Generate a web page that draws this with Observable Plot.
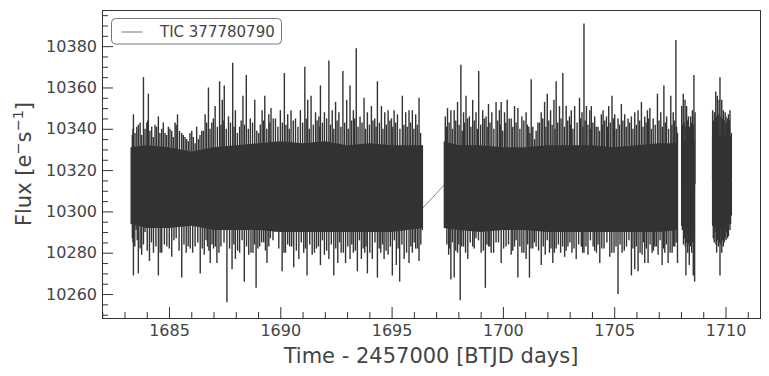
<!DOCTYPE html>
<html>
<head>
<meta charset="utf-8">
<script src="https://cdn.jsdelivr.net/npm/d3@7"></script>
<script src="https://cdn.jsdelivr.net/npm/@observablehq/plot@0.6"></script>
<style>
  html, body { margin: 0; padding: 0; background: white; }
  #chart { position: relative; width: 769px; height: 376px; }
</style>
</head>
<body>
<div id="chart"></div>
<script>
// ---- Data (TIC 377780790 light curve) ----
const seriesName = "TIC 377780790";
const xLabel = "Time - 2457000 [BTJD days]";

// tallest upper excursions (time, flux) per segment
const seg1HiT = [1683.33,1683.38,1683.53,1683.68,1683.83,1683.98,1684.05,1684.20,1684.35,1684.50,1684.65,1684.80,1684.95,1685.10,1685.25,1685.36,1685.55,1685.70,1685.85,1686.00,1686.15,1686.30,1686.45,1686.60,1686.75,1686.90,1687.05,1687.25,1687.37,1687.46,1687.65,1687.84,1687.96,1688.15,1688.30,1688.45,1688.63,1688.83,1689.01,1689.16,1689.28,1689.46,1689.56,1689.76,1689.98,1690.16,1690.31,1690.46,1690.66,1690.88,1691.08,1691.21,1691.36,1691.56,1691.71,1691.78,1691.96,1692.16,1692.31,1692.46,1692.61,1692.79,1692.96,1693.11,1693.26,1693.39,1693.56,1693.74,1693.89,1694.07,1694.22,1694.34,1694.52,1694.67,1694.82,1694.97,1695.09,1695.24,1695.46,1695.61,1695.76,1695.91,1696.06,1696.21,1696.36];
const seg1HiF = [10337,10347,10341,10343,10365,10343,10357,10341,10342,10346,10340,10338,10341,10339,10343,10347,10338,10336,10334,10339,10333,10335,10339,10347,10360,10343,10351,10363,10354,10361,10346,10372,10349,10341,10356,10366,10345,10354,10338,10349,10356,10347,10350,10345,10349,10367,10347,10349,10345,10349,10370,10354,10356,10348,10346,10361,10348,10373,10349,10353,10348,10368,10354,10361,10349,10379,10346,10355,10348,10351,10345,10363,10351,10348,10349,10345,10349,10347,10356,10348,10349,10349,10347,10355,10332];
const seg2HiT = [1697.39,1697.49,1697.64,1697.79,1697.94,1698.09,1698.21,1698.32,1698.47,1698.62,1698.77,1698.89,1699.07,1699.22,1699.33,1699.48,1699.67,1699.82,1699.90,1700.05,1700.17,1700.35,1700.50,1700.65,1700.83,1701.02,1701.14,1701.25,1701.40,1701.55,1701.70,1701.85,1701.97,1702.12,1702.27,1702.37,1702.52,1702.67,1702.82,1702.97,1703.05,1703.20,1703.42,1703.53,1703.62,1703.73,1703.88,1703.95,1704.10,1704.25,1704.40,1704.48,1704.63,1704.73,1704.88,1705.00,1705.15,1705.30,1705.45,1705.60,1705.75,1705.90,1706.05,1706.20,1706.35,1706.47,1706.58,1706.73,1706.92,1707.07,1707.21,1707.33,1707.52,1707.63,1707.75,1707.82];
const seg2HiF = [10346,10350,10349,10349,10353,10371,10348,10356,10346,10354,10348,10368,10349,10346,10352,10348,10353,10349,10353,10348,10354,10345,10351,10350,10346,10348,10341,10364,10335,10343,10348,10353,10357,10349,10354,10363,10351,10367,10351,10346,10349,10351,10355,10348,10391,10351,10349,10351,10346,10341,10347,10349,10346,10351,10356,10347,10345,10352,10347,10345,10346,10348,10349,10353,10346,10349,10350,10345,10357,10348,10361,10346,10356,10348,10383,10338];
const seg3HiT = [1708.01,1708.05,1708.08,1708.12,1708.16,1708.20,1708.23,1708.27,1708.31,1708.36,1708.41,1708.45,1708.49,1708.53,1708.56,1708.61];
const seg3HiF = [10351,10342,10357,10343,10354,10341,10351,10344,10346,10341,10346,10343,10349,10342,10366,10348];
const seg4HiT = [1709.40,1709.44,1709.48,1709.51,1709.54,1709.58,1709.61,1709.65,1709.69,1709.73,1709.77,1709.81,1709.85,1709.88,1709.92,1709.96,1710.00,1710.03,1710.07,1710.11,1710.15,1710.18,1710.24];
const seg4HiF = [10349,10344,10348,10345,10358,10346,10356,10347,10354,10365,10346,10354,10345,10349,10344,10348,10346,10343,10345,10347,10344,10349,10338];

// deepest lower excursions (time, flux) per segment
const seg1LoT = [1683.33,1683.38,1683.50,1683.60,1683.75,1683.90,1684.10,1684.28,1684.50,1684.65,1684.88,1685.10,1685.30,1685.55,1685.75,1685.93,1686.15,1686.38,1686.56,1686.71,1686.83,1686.98,1687.13,1687.31,1687.58,1687.81,1687.96,1688.15,1688.36,1688.56,1688.75,1688.89,1689.05,1689.23,1689.38,1689.53,1689.76,1690.06,1690.21,1690.40,1690.58,1690.81,1691.03,1691.18,1691.41,1691.60,1691.78,1691.96,1692.16,1692.38,1692.56,1692.71,1692.91,1693.11,1693.26,1693.44,1693.62,1693.77,1693.89,1694.11,1694.34,1694.49,1694.64,1694.82,1695.01,1695.19,1695.34,1695.54,1695.76,1695.91,1696.06,1696.21,1696.36];
const seg1LoF = [10287,10269,10291,10270,10279,10290,10276,10280,10269,10280,10283,10278,10287,10268,10280,10282,10283,10270,10279,10283,10275,10282,10275,10283,10256,10272,10277,10280,10266,10279,10280,10263,10283,10285,10275,10287,10290,10271,10280,10283,10273,10277,10280,10269,10279,10282,10274,10279,10277,10269,10275,10280,10275,10277,10280,10271,10277,10280,10270,10277,10268,10280,10277,10279,10269,10274,10266,10277,10275,10280,10282,10276,10291];
const seg2LoT = [1697.39,1697.54,1697.64,1697.79,1697.94,1698.06,1698.21,1698.40,1698.62,1698.77,1699.00,1699.19,1699.33,1699.45,1699.67,1699.90,1700.12,1700.35,1700.50,1700.65,1700.83,1701.02,1701.17,1701.32,1701.47,1701.70,1701.88,1702.07,1702.22,1702.37,1702.57,1702.75,1702.90,1703.08,1703.27,1703.50,1703.62,1703.80,1704.03,1704.18,1704.33,1704.52,1704.78,1704.97,1705.15,1705.33,1705.53,1705.75,1705.90,1706.05,1706.23,1706.35,1706.50,1706.68,1706.80,1706.95,1707.13,1707.25,1707.40,1707.58,1707.70,1707.82];
const seg2LoF = [10293,10279,10267,10268,10280,10257,10283,10277,10283,10287,10280,10263,10283,10280,10285,10275,10283,10279,10283,10268,10280,10277,10268,10282,10283,10274,10279,10280,10275,10282,10280,10278,10283,10280,10277,10283,10280,10279,10283,10280,10275,10282,10278,10280,10260,10280,10283,10269,10272,10271,10279,10275,10275,10280,10283,10279,10274,10280,10275,10280,10283,10275];
const seg3LoT = [1708.04,1708.09,1708.13,1708.17,1708.20,1708.24,1708.28,1708.32,1708.35,1708.40,1708.46,1708.50,1708.53,1708.59];
const seg3LoF = [10291,10284,10287,10283,10269,10285,10280,10284,10274,10283,10280,10285,10269,10266];
const seg4LoT = [1709.43,1709.47,1709.51,1709.55,1709.58,1709.62,1709.66,1709.70,1709.73,1709.77,1709.81,1709.85,1709.88,1709.92,1709.96,1710.00,1710.03,1710.07,1710.11,1710.18,1710.24];
const seg4LoF = [10287,10285,10290,10284,10280,10286,10283,10285,10269,10284,10280,10286,10283,10285,10287,10286,10290,10287,10288,10291,10298];

// shorter excursions forming the ragged fringe of the dense core
const seg1MidHiT = [1683.36,1683.45,1683.60,1683.75,1683.90,1684.02,1684.12,1684.27,1684.42,1684.57,1684.72,1684.87,1685.02,1685.17,1685.30,1685.45,1685.62,1685.77,1685.92,1686.07,1686.22,1686.37,1686.52,1686.67,1686.82,1686.97,1687.15,1687.31,1687.41,1687.55,1687.74,1687.90,1688.05,1688.22,1688.37,1688.54,1688.73,1688.92,1689.08,1689.22,1689.37,1689.51,1689.66,1689.87,1690.07,1690.23,1690.38,1690.56,1690.77,1690.98,1691.14,1691.28,1691.46,1691.63,1691.74,1691.87,1692.06,1692.23,1692.38,1692.53,1692.70,1692.87,1693.03,1693.18,1693.32,1693.47,1693.65,1693.81,1693.98,1694.14,1694.28,1694.43,1694.59,1694.74,1694.90,1695.03,1695.16,1695.35,1695.53,1695.68,1695.83,1695.98,1696.13,1696.28];
const seg1MidHiF = [10340,10338,10342,10337,10340,10344,10339,10336,10341,10338,10343,10337,10340,10336,10342,10339,10337,10335,10338,10336,10341,10337,10339,10343,10340,10345,10341,10342,10344,10340,10343,10341,10338,10344,10342,10340,10343,10339,10342,10344,10340,10343,10345,10341,10343,10342,10340,10344,10341,10343,10345,10340,10342,10344,10341,10343,10345,10342,10340,10344,10341,10343,10340,10344,10345,10341,10343,10340,10342,10344,10341,10343,10340,10342,10344,10341,10343,10340,10342,10341,10343,10340,10342,10338];
const seg1MidLoT = [1683.36,1683.44,1683.55,1683.68,1683.83,1684.00,1684.19,1684.39,1684.58,1684.77,1684.99,1685.20,1685.43,1685.65,1685.84,1686.04,1686.27,1686.47,1686.64,1686.77,1686.91,1687.06,1687.22,1687.45,1687.70,1687.89,1688.06,1688.26,1688.46,1688.66,1688.82,1688.97,1689.14,1689.31,1689.46,1689.65,1689.91,1690.14,1690.31,1690.49,1690.70,1690.92,1691.11,1691.30,1691.51,1691.69,1691.87,1692.06,1692.27,1692.47,1692.64,1692.81,1693.01,1693.19,1693.35,1693.53,1693.70,1693.83,1694.00,1694.23,1694.42,1694.57,1694.73,1694.92,1695.10,1695.27,1695.44,1695.65,1695.84,1695.99,1696.14,1696.29];
const seg1MidLoF = [10285,10283,10286,10282,10284,10281,10285,10283,10280,10284,10282,10286,10281,10284,10283,10280,10285,10282,10286,10281,10284,10283,10280,10285,10282,10284,10281,10286,10283,10280,10284,10282,10285,10281,10283,10286,10282,10280,10284,10283,10281,10285,10282,10284,10280,10283,10286,10281,10284,10282,10285,10280,10283,10284,10281,10286,10282,10283,10280,10285,10282,10284,10281,10283,10286,10282,10284,10280,10283,10285,10282,10284];
const seg2MidHiT = [1697.44,1697.56,1697.71,1697.86,1698.01,1698.15,1698.26,1698.39,1698.54,1698.69,1698.83,1698.98,1699.14,1699.27,1699.40,1699.57,1699.74,1699.86,1699.97,1700.11,1700.26,1700.42,1700.57,1700.74,1700.92,1701.08,1701.19,1701.32,1701.47,1701.62,1701.77,1701.91,1702.04,1702.19,1702.32,1702.44,1702.59,1702.74,1702.89,1703.01,1703.12,1703.31,1703.47,1703.57,1703.67,1703.80,1703.91,1704.02,1704.17,1704.32,1704.44,1704.55,1704.68,1704.80,1704.94,1705.07,1705.22,1705.37,1705.52,1705.67,1705.82,1705.97,1706.12,1706.27,1706.41,1706.52,1706.65,1706.82,1706.99,1707.14,1707.27,1707.42,1707.57,1707.69,1707.78];
const seg2MidHiF = [10341,10343,10340,10344,10342,10339,10343,10345,10341,10344,10340,10342,10345,10341,10343,10340,10344,10342,10339,10343,10345,10341,10343,10340,10344,10342,10338,10341,10339,10343,10345,10341,10344,10342,10340,10343,10345,10341,10344,10342,10340,10343,10345,10341,10344,10342,10340,10343,10341,10339,10342,10344,10341,10343,10345,10340,10342,10344,10341,10343,10340,10342,10344,10341,10343,10345,10340,10342,10344,10341,10343,10340,10342,10344,10341];
const seg2MidLoT = [1697.46,1697.59,1697.71,1697.86,1698.00,1698.13,1698.30,1698.51,1698.69,1698.88,1699.10,1699.26,1699.39,1699.56,1699.78,1700.01,1700.23,1700.42,1700.57,1700.74,1700.92,1701.09,1701.24,1701.39,1701.58,1701.79,1701.97,1702.14,1702.29,1702.47,1702.66,1702.82,1702.99,1703.17,1703.38,1703.56,1703.71,1703.91,1704.10,1704.25,1704.42,1704.65,1704.87,1705.06,1705.24,1705.43,1705.64,1705.82,1705.97,1706.14,1706.29,1706.42,1706.59,1706.74,1706.87,1707.04,1707.19,1707.32,1707.49,1707.64,1707.76];
const seg2MidLoF = [10284,10282,10285,10281,10284,10283,10280,10285,10282,10286,10281,10284,10283,10280,10285,10282,10284,10281,10286,10283,10280,10284,10282,10285,10281,10283,10286,10282,10280,10284,10283,10281,10285,10282,10284,10280,10283,10286,10281,10284,10282,10285,10280,10283,10284,10281,10286,10282,10283,10280,10285,10282,10284,10281,10283,10286,10282,10284,10280,10283,10285];

// dense core of the light curve (time, low edge, high edge, segment)
const bandT   = [1683.27,1684,1685,1686,1687,1688,1689,1690,1691,1692,1693,1694,1695,1696.39, 1697.34,1698,1699,1700,1701,1702,1703,1704,1705,1706,1707,1707.86, 1708.00,1708.30,1708.62, 1709.39,1709.80,1710.26];
const bandLo  = [10294,10292,10292,10293,10291,10291,10291,10290,10290,10290,10290,10290,10290,10292, 10292,10291,10290,10291,10291,10290,10290,10290,10290,10290,10290,10291, 10293,10292,10292, 10293,10292,10294];
const bandHi  = [10331,10332,10331,10329,10331,10332,10333,10334,10333,10334,10332,10333,10332,10332, 10334,10332,10332,10331,10331,10332,10332,10332,10331,10332,10333,10333, 10334,10334,10334, 10336,10337,10336];
const bandSeg = [1,1,1,1,1,1,1,1,1,1,1,1,1,1, 2,2,2,2,2,2,2,2,2,2,2,2, 3,3,3, 4,4,4];
const segMedian = {1: 10312, 2: 10312, 3: 10313, 4: 10315};

// line across the mid-sector gap
const bridgeT = [1696.39, 1697.34];
const bridgeF = [10302, 10313];

// ticks
const xMajor = [1685, 1690, 1695, 1700, 1705, 1710];
const xMinor = [1682,1683,1684,1686,1687,1688,1689,1691,1692,1693,1694,1696,1697,1698,1699,1701,1702,1703,1704,1706,1707,1708,1709,1711];
const yMajor = [10260, 10280, 10300, 10320, 10340, 10360, 10380];
const yMinor = [10250,10255,10265,10270,10275,10285,10290,10295,10305,10310,10315,10325,10330,10335,10345,10350,10355,10365,10370,10375,10385,10390,10395];

// ---- build tables ----
const spikes = [];
[[seg1HiT, seg1HiF, 1], [seg2HiT, seg2HiF, 2], [seg3HiT, seg3HiF, 3], [seg4HiT, seg4HiF, 4],
 [seg1LoT, seg1LoF, 1], [seg2LoT, seg2LoF, 2], [seg3LoT, seg3LoF, 3], [seg4LoT, seg4LoF, 4],
 [seg1MidHiT, seg1MidHiF, 1], [seg1MidLoT, seg1MidLoF, 1],
 [seg2MidHiT, seg2MidHiF, 2], [seg2MidLoT, seg2MidLoF, 2]]
  .forEach(([T, F, s]) => {
    const n = Math.min(T.length, F.length);
    for (let i = 0; i < n; i++) spikes.push({t: T[i], f: F[i], base: segMedian[s]});
  });
const band = bandT.map((t, i) => ({t, lo: bandLo[i], hi: bandHi[i], seg: bandSeg[i]}));
const bridge = bridgeT.map((t, i) => ({t, f: bridgeF[i]}));

const ink = "#333333";
const txt = "#444444";
const font = "DejaVu Sans, sans-serif";

const chart = Plot.plot({
  width: 769,
  height: 376,
  marginLeft: 102,
  marginRight: 9,
  marginTop: 10,
  marginBottom: 58,
  x: {domain: [1681.99, 1711.55], label: null},
  y: {domain: [10248.4, 10397.5], label: null},
  style: {fontFamily: font, background: "white", color: txt},
  marks: [
    Plot.areaY(band, {x: "t", y1: "lo", y2: "hi", z: "seg", fill: ink}),
    Plot.ruleX(spikes, {x: "t", y1: "base", y2: "f", stroke: ink, strokeWidth: 1.4}),
    Plot.line(bridge, {x: "t", y: "f", stroke: ink, strokeWidth: 0.6}),
    Plot.frame({stroke: ink, strokeWidth: 1}),
    // inward ticks
    Plot.axisX(xMajor, {anchor: "bottom", tickSize: 11, dy: -11, fill: "none", stroke: ink}),
    Plot.axisX(xMinor, {anchor: "bottom", tickSize: 6, dy: -6, fill: "none", stroke: ink}),
    Plot.axisY(yMajor, {anchor: "left", tickSize: 11, dx: 11, fill: "none", stroke: ink}),
    Plot.axisY(yMinor, {anchor: "left", tickSize: 6, dx: 6, fill: "none", stroke: ink}),
    // tick labels
    Plot.axisX(xMajor, {anchor: "bottom", tickSize: 0, tickPadding: 6, fontSize: 16, fill: txt, tickFormat: d => String(d)}),
    Plot.axisY(yMajor, {anchor: "left", tickSize: 0, tickPadding: 5.5, fontSize: 16, fill: txt, tickFormat: d => String(d)})
  ]
});

document.getElementById("chart").appendChild(chart);

// ---- labels and legend ----
const svg = d3.select(chart);

svg.append("text")
  .attr("x", 431).attr("y", 362.5)
  .attr("text-anchor", "middle")
  .attr("font-family", font).attr("font-size", 21).attr("fill", txt)
  .text(xLabel);

const yl = svg.append("text")
  .attr("transform", "translate(30.5,164) rotate(-90)")
  .attr("text-anchor", "middle")
  .attr("font-family", font).attr("font-size", 21).attr("fill", txt);
yl.append("tspan").text("Flux [e");
yl.append("tspan").attr("dy", -8).attr("font-size", 14.5).text("\u2212");
yl.append("tspan").attr("dy", 8).text("s");
yl.append("tspan").attr("dy", -8).attr("font-size", 14.5).text("\u22121");
yl.append("tspan").attr("dy", 8).text("]");

const lg = svg.append("g");
lg.append("rect")
  .attr("x", 111.5).attr("y", 18.5).attr("width", 170).attr("height", 25.5)
  .attr("rx", 4).attr("fill", "white").attr("fill-opacity", 0.8)
  .attr("stroke", "#777").attr("stroke-width", 1);
lg.append("line")
  .attr("x1", 121.7).attr("x2", 142.3).attr("y1", 32).attr("y2", 32)
  .attr("stroke", ink).attr("stroke-width", 0.7);
lg.append("text")
  .attr("x", 160).attr("y", 36.5)
  .attr("text-anchor", "start")
  .attr("font-family", font).attr("font-size", 15).attr("fill", txt)
  .text(seriesName);
</script>
</body>
</html>
